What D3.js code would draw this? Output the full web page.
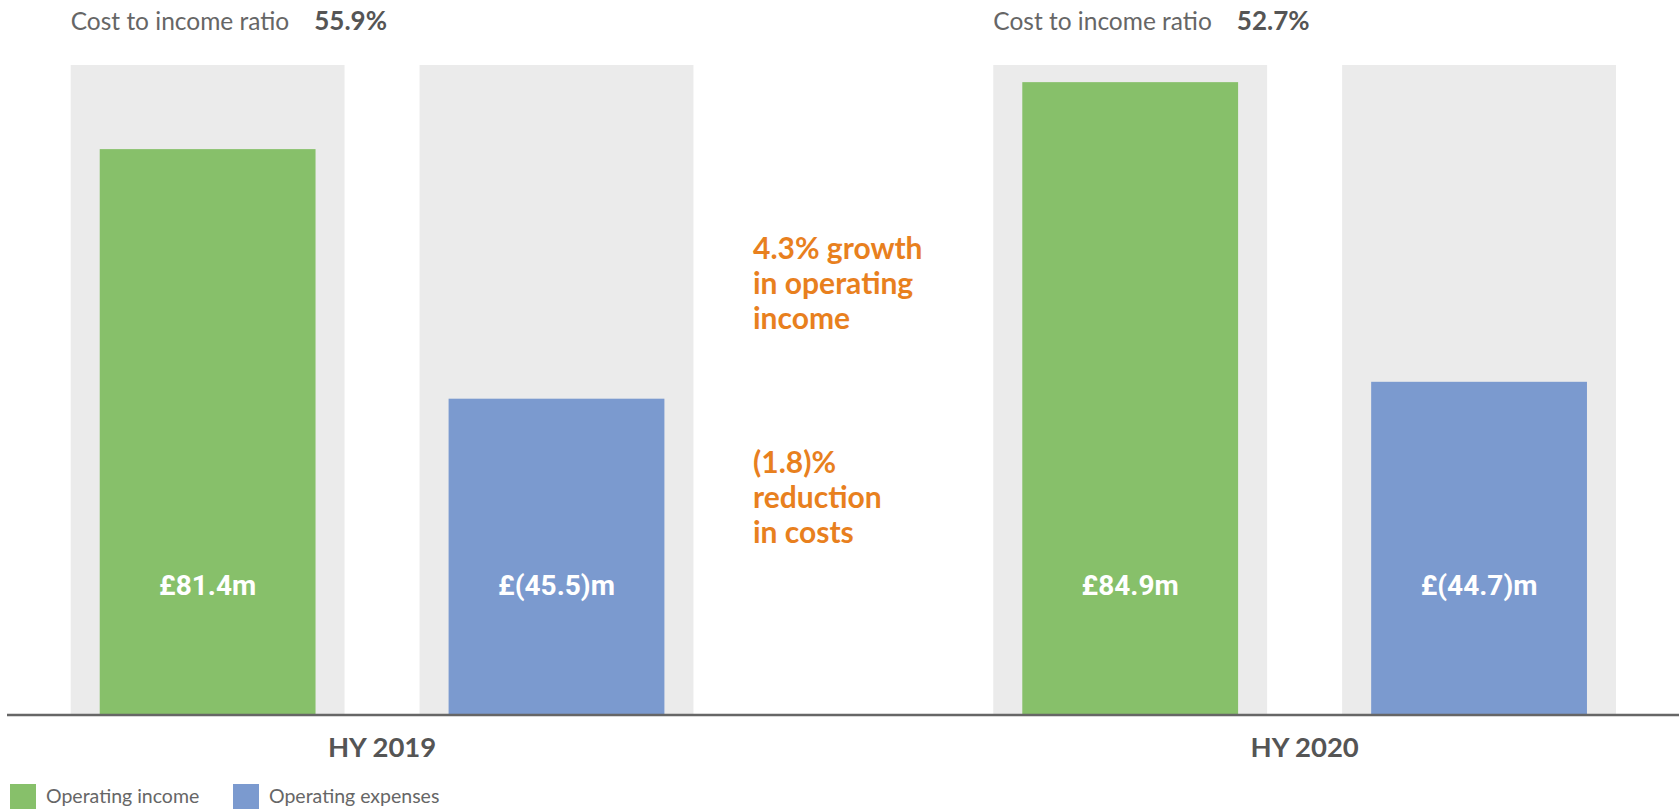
<!DOCTYPE html>
<html lang="en">
<head>
    <meta charset="UTF-8">
    <title>Operating income and expenses</title>
    <script src="https://d3js.org/d3.v7.min.js"></script>
    <style>
        body { margin: 0; background: #fff; }
        text { font-family: Lato, "Open Sans", sans-serif; }
    </style>
</head>
<body>
    <div id="chart"></div>

    <script>
        // Data
        const periods = ["HY 2019", "HY 2020"];
        const series = ["Operating income", "Operating expenses"];
        const income = [81.4, 84.9];
        const expenses = [45.5, 44.7];
        const valueLabels = [["£81.4m", "£(45.5)m"], ["£84.9m", "£(44.7)m"]];
        const costIncomeRatio = ["55.9%", "52.7%"];
        // each period is drawn against its own panel scale
        const panelMax = [93.5, 87.2];
        const notes = [
            ["4.3% growth", "in operating", "income"],
            ["(1.8)%", "reduction", "in costs"]
        ];

        const colors = { "Operating income": "#87c06a", "Operating expenses": "#7b9acf" };

        const W = 1679, H = 811;
        const baseY = 715, panelTop = 65;

        const svg = d3.select("#chart")
            .append("svg")
            .attr("width", W)
            .attr("height", H);

        const x0 = d3.scaleBand()
            .domain(periods)
            .range([70.7, 1616])
            .paddingInner(0.325)
            .paddingOuter(0);

        const x1 = d3.scaleBand()
            .domain(series)
            .range([0, x0.bandwidth()])
            .paddingInner(0.215);

        const inset = x1.bandwidth() * 0.106;

        const data = periods.map((p, i) => ({
            period: p,
            ratio: costIncomeRatio[i],
            y: d3.scaleLinear().domain([0, panelMax[i]]).range([baseY, panelTop]),
            values: [
                { key: series[0], value: income[i], label: valueLabels[i][0] },
                { key: series[1], value: expenses[i], label: valueLabels[i][1] }
            ]
        }));

        const groups = svg.selectAll(".period")
            .data(data)
            .enter()
            .append("g")
            .attr("class", "period")
            .attr("transform", d => `translate(${x0(d.period)},0)`);

        // grey panels
        groups.selectAll(".panel")
            .data(d => d.values.map(v => ({ ...v, y: d.y })))
            .enter()
            .append("rect")
            .attr("class", "panel")
            .attr("x", d => x1(d.key))
            .attr("y", d => d.y.range()[1])
            .attr("width", x1.bandwidth())
            .attr("height", d => d.y.range()[0] - d.y.range()[1])
            .attr("fill", "#ebebeb");

        // bars
        groups.selectAll(".bar")
            .data(d => d.values.map(v => ({ ...v, y: d.y })))
            .enter()
            .append("rect")
            .attr("class", "bar")
            .attr("x", d => x1(d.key) + inset)
            .attr("y", d => d.y(d.value))
            .attr("width", x1.bandwidth() - 2 * inset)
            .attr("height", d => baseY - d.y(d.value))
            .attr("fill", d => colors[d.key]);

        // value labels
        groups.selectAll(".val")
            .data(d => d.values)
            .enter()
            .append("text")
            .attr("class", "val")
            .attr("x", d => x1(d.key) + x1.bandwidth() / 2)
            .attr("y", 595)
            .attr("text-anchor", "middle")
            .style("font-family", "Roboto, sans-serif")
            .style("font-weight", 700)
            .style("font-size", "28px")
            .attr("fill", "#fff")
            .text(d => d.label);

        // cost to income ratio headers
        const head = groups.append("text")
            .attr("x", 0)
            .attr("y", 29.5)
            .style("font-size", "24.5px")
            .attr("fill", "#666");
        head.append("tspan").text("Cost to income ratio");
        head.append("tspan")
            .attr("dx", 25)
            .style("font-size", "26px")
            .style("font-weight", 700)
            .attr("fill", "#555")
            .text(d => d.ratio);

        // baseline
        svg.append("line")
            .attr("x1", 7)
            .attr("x2", W)
            .attr("y1", baseY)
            .attr("y2", baseY)
            .attr("stroke", "#666")
            .attr("stroke-width", 2.5);

        // period labels
        const xAxis = svg.append("g")
            .attr("transform", `translate(0,${baseY})`)
            .call(d3.axisBottom(x0).tickSize(0).tickPadding(22));
        xAxis.select(".domain").remove();
        xAxis.selectAll("text")
            .style("font-family", "Lato, sans-serif")
            .style("font-size", "27.5px")
            .style("font-weight", 700)
            .attr("fill", "#555");

        // orange annotations
        notes.forEach((lines, i) => {
            const t = svg.append("text")
                .attr("x", 753)
                .attr("y", i === 0 ? 259 : 473)
                .style("font-size", "30px")
                .style("font-weight", 700)
                .attr("fill", "#e8801e");
            lines.forEach((l, j) => {
                t.append("tspan")
                    .attr("x", 753)
                    .attr("dy", j === 0 ? 0 : 35)
                    .text(l);
            });
        });

        // legend
        const legend = svg.append("g").attr("transform", "translate(10,784)");
        const items = legend.selectAll(".item")
            .data(series)
            .enter()
            .append("g")
            .attr("transform", (d, i) => `translate(${i * 223},0)`);
        items.append("rect")
            .attr("width", 26)
            .attr("height", 25)
            .attr("fill", d => colors[d]);
        items.append("text")
            .attr("x", 36)
            .attr("y", 19)
            .style("font-size", "19.5px")
            .attr("fill", "#666")
            .text(d => d);
    </script>
</body>
</html>
